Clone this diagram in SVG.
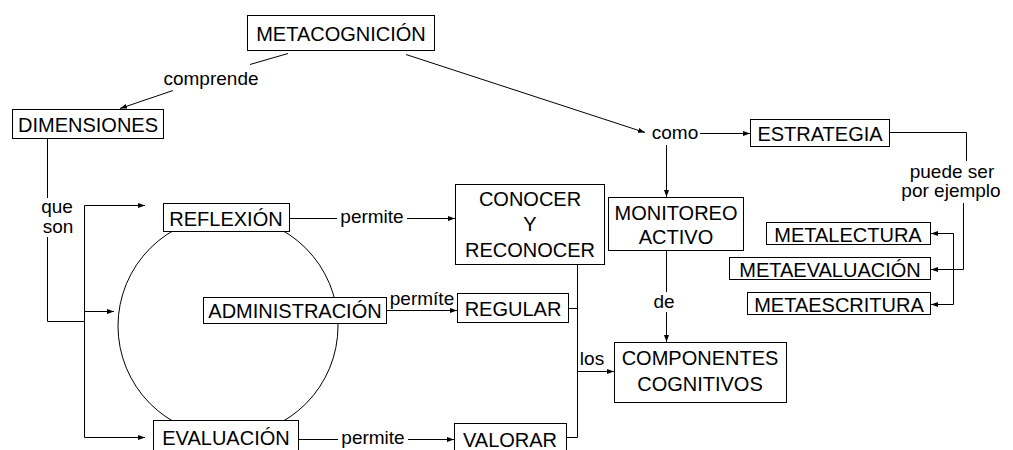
<svg xmlns="http://www.w3.org/2000/svg" width="1013" height="450" viewBox="0 0 1013 450">
<style>
  .box { fill: #fff; stroke: #000; stroke-width: 1; }
  .t { font-family: "Liberation Sans", Arial, sans-serif; font-size: 20px; fill: #000; text-anchor: middle; }
  .l { font-family: "Liberation Sans", Arial, sans-serif; font-size: 19px; fill: #000; text-anchor: middle; }
  .c { fill: none; stroke: #000; stroke-width: 1; }
  .a { marker-end: url(#ah); }
</style>
<defs>
  <marker id="ah" markerWidth="8" markerHeight="6" refX="7" refY="3" orient="auto" markerUnits="userSpaceOnUse">
    <path d="M0,0.5 L7,3 L0,5.5 z" fill="#000"/>
  </marker>
</defs>
<rect width="1013" height="450" fill="#fff"/>

<circle cx="228" cy="326" r="110" class="c"/>

<g id="connectors">
  <line class="c" x1="288" y1="53.5" x2="250" y2="64.5"/>
  <line class="c a" x1="173" y1="90.5" x2="120" y2="108.5"/>
  <line class="c a" x1="406" y1="54.5" x2="645" y2="132.5"/>
  <line class="c a" x1="700" y1="133.5" x2="750" y2="133.5"/>
  <line class="c a" x1="666.5" y1="145" x2="666.5" y2="197"/>
  <polyline class="c" points="890,132.5 966.5,132.5 966.5,161"/>
  <polyline class="c a" points="963.5,203 963.5,269.5 931,269.5"/>
  <line class="c" x1="953.5" y1="233.5" x2="953.5" y2="304.5"/>
  <line class="c a" x1="953.5" y1="233.5" x2="931" y2="233.5"/>
  <line class="c a" x1="953.5" y1="304.5" x2="931" y2="304.5"/>
  <line class="c" x1="666.5" y1="250" x2="666.5" y2="292"/>
  <line class="c a" x1="666.5" y1="312" x2="666.5" y2="342"/>
  <line class="c" x1="577.5" y1="264" x2="577.5" y2="437.5"/>
  <line class="c" x1="568" y1="308.5" x2="577.5" y2="308.5"/>
  <line class="c" x1="566" y1="437.5" x2="577.5" y2="437.5"/>
  <line class="c a" x1="577.5" y1="371.5" x2="614" y2="371.5"/>
  <line class="c" x1="290" y1="218.5" x2="337" y2="218.5"/>
  <line class="c a" x1="407" y1="218.5" x2="455" y2="218.5"/>
  <line class="c a" x1="386" y1="310.5" x2="457" y2="310.5"/>
  <line class="c" x1="299" y1="439.5" x2="338" y2="439.5"/>
  <line class="c a" x1="408" y1="439.5" x2="454" y2="439.5"/>
  <line class="c" x1="47.5" y1="138" x2="47.5" y2="198"/>
  <polyline class="c" points="47.5,237 47.5,321.5 84.5,321.5"/>
  <line class="c" x1="84.5" y1="205.5" x2="84.5" y2="437.5"/>
  <line class="c a" x1="84.5" y1="205.5" x2="145" y2="205.5"/>
  <line class="c a" x1="84.5" y1="311.5" x2="114" y2="311.5"/>
  <line class="c a" x1="84.5" y1="437.5" x2="145" y2="437.5"/>
  <text class="l" x="211" y="85">comprende</text>
  <text class="l" x="675" y="139">como</text>
  <text class="l" x="952" y="178">puede ser</text>
  <text class="l" x="951" y="197">por ejemplo</text>
  <text class="l" x="664" y="308">de</text>
  <text class="l" x="592" y="365">los</text>
  <text class="l" x="372" y="223">permite</text>
  <text class="l" x="422" y="305" font-size="18">permíte</text>
  <text class="l" x="373" y="444">permite</text>
  <text class="l" x="57" y="213">que</text>
  <text class="l" x="58" y="233">son</text>
</g>

<g id="metacognicion"><rect class="box" x="247.5" y="15.5" width="187" height="35"/><text class="t" x="341" y="41">METACOGNICIÓN</text></g>
<g id="dimensiones"><rect class="box" x="12.5" y="109.5" width="151" height="29"/><text class="t" x="88" y="132">DIMENSIONES</text></g>
<g id="estrategia"><rect class="box" x="750.5" y="119.5" width="139" height="27"/><text class="t" x="820" y="141">ESTRATEGIA</text></g>
<g id="monitoreo"><rect class="box" x="608.5" y="197.5" width="135" height="53"/><text class="t" x="676" y="220">MONITOREO</text><text class="t" x="676" y="244">ACTIVO</text></g>
<g id="conocer"><rect class="box" x="455.5" y="184.5" width="149" height="80"/><text class="t" x="530" y="206">CONOCER</text><text class="t" x="530" y="231">Y</text><text class="t" x="530" y="257">RECONOCER</text></g>
<g id="reflexion"><rect class="box" x="163.5" y="203.5" width="126" height="28"/><text class="t" x="226" y="226">REFLEXIÓN</text></g>
<g id="administracion"><rect class="box" x="203.5" y="297.5" width="183" height="26"/><text class="t" x="295" y="318">ADMINISTRACIÓN</text></g>
<g id="regular"><rect class="box" x="457.5" y="293.5" width="111" height="29"/><text class="t" x="513" y="316">REGULAR</text></g>
<g id="componentes"><rect class="box" x="614.5" y="342.5" width="172" height="60"/><text class="t" x="700" y="365">COMPONENTES</text><text class="t" x="700" y="391">COGNITIVOS</text></g>
<g id="evaluacion"><rect class="box" x="153.5" y="420.5" width="145" height="32"/><text class="t" x="226" y="445">EVALUACIÓN</text></g>
<g id="valorar"><rect class="box" x="454.5" y="423.5" width="112" height="30"/><text class="t" x="510" y="447">VALORAR</text></g>
<g id="metalectura"><rect class="box" x="766.5" y="222.5" width="164" height="22"/><text class="t" x="848" y="242">METALECTURA</text></g>
<g id="metaevaluacion"><rect class="box" x="729.5" y="257.5" width="201" height="22"/><text class="t" x="830" y="277">METAEVALUACIÓN</text></g>
<g id="metaescritura"><rect class="box" x="747.5" y="292.5" width="183" height="22"/><text class="t" x="839" y="312">METAESCRITURA</text></g>
</svg>
